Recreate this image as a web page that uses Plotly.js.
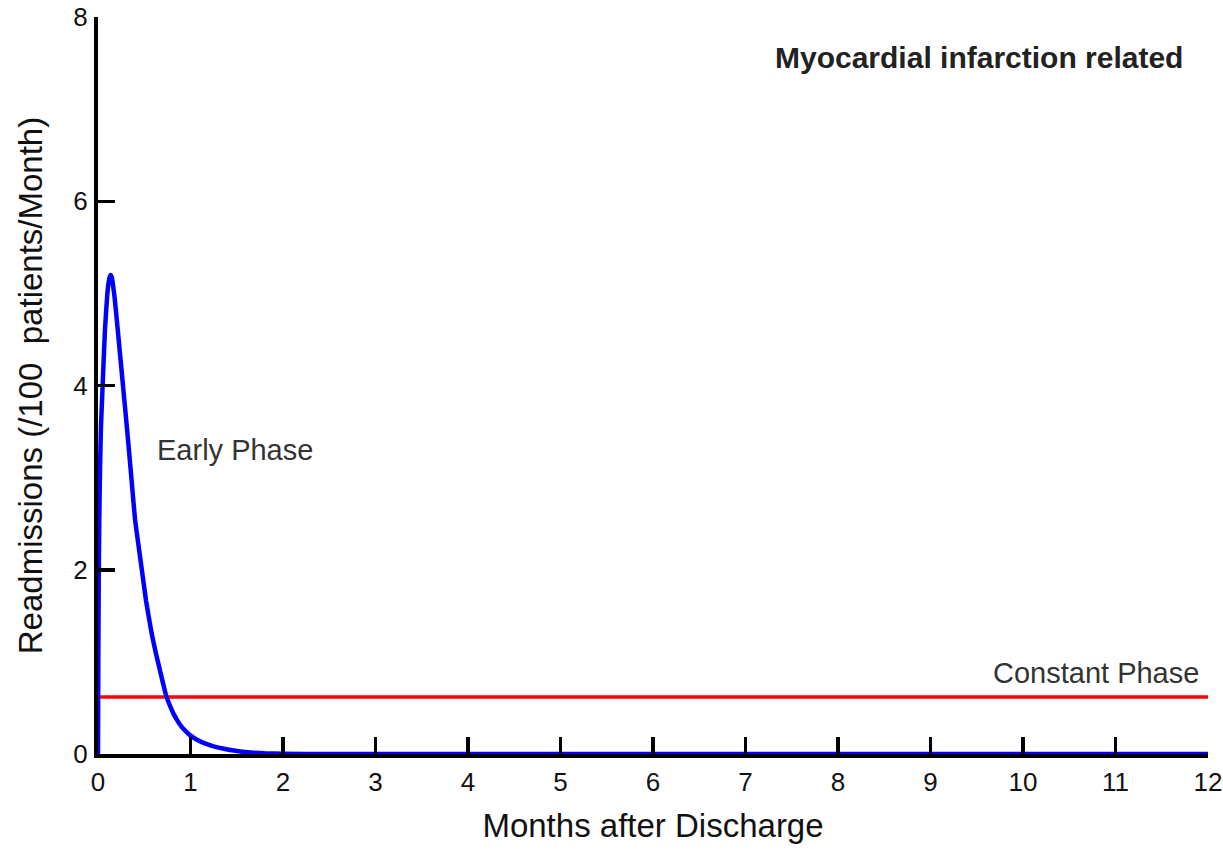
<!DOCTYPE html>
<html>
<head>
<meta charset="utf-8">
<script src="https://cdn.plot.ly/plotly-3.0.1.min.js"></script>
<style>html,body{margin:0;padding:0;background:#fff;}#chart{width:1223px;height:853px;}</style>
</head>
<body>
<div id="chart"></div>
<script>
// Early phase curve
const earlyMonths = [0, 0.003, 0.008, 0.014, 0.022, 0.032, 0.05, 0.075, 0.10, 0.115, 0.127, 0.137, 0.147, 0.16, 0.18, 0.21, 0.24, 0.27, 0.30, 0.33, 0.365, 0.40, 0.44, 0.47, 0.52, 0.58, 0.62, 0.66, 0.70, 0.74, 0.78, 0.82, 0.86, 0.90, 0.95, 1.0, 1.08, 1.17, 1.26, 1.35, 1.45, 1.56, 1.68, 1.8, 2.0, 2.5, 3, 6, 9, 12];
const earlyValues = [0, 0.9, 1.9, 2.55, 3.1, 3.55, 4.0, 4.6, 4.98, 5.12, 5.18, 5.2, 5.18, 5.11, 4.95, 4.64, 4.32, 4.0, 3.68, 3.35, 2.95, 2.55, 2.25, 2.03, 1.66, 1.31, 1.12, 0.95, 0.78, 0.62, 0.52, 0.43, 0.36, 0.30, 0.245, 0.20, 0.15, 0.11, 0.08, 0.06, 0.04, 0.025, 0.015, 0.008, 0.003, 0, 0, 0, 0, 0];
// Constant phase
const constMonths = [0, 12];
const constValues = [0.62, 0.62];

const xTicks = [0,1,2,3,4,5,6,7,8,9,10,11,12];
const yTicks = [0,2,4,6,8];

const font = "Liberation Sans, Arial, sans-serif";

const traces = [
  {x: constMonths, y: constValues, mode: 'lines', line: {color: '#ff0000', width: 3.5}, hoverinfo: 'skip'},
  {x: earlyMonths, y: earlyValues, mode: 'lines', line: {color: '#0000ff', width: 4.5, shape: 'spline', smoothing: 0.4}, hoverinfo: 'skip'}
];

const axisCommon = {
  showgrid: false, zeroline: false, showline: true, linecolor: '#000', linewidth: 4,
  ticks: 'inside', ticklen: 17, tickwidth: 3.5, tickcolor: '#000',
  tickfont: {family: font, size: 26, color: '#111'}, mirror: false,
  ticklabeloverflow: 'allow'
};

const layout = {
  width: 1223, height: 853,
  margin: {l: 98, r: 15, t: 17, b: 99},
  paper_bgcolor: '#fff', plot_bgcolor: '#fff',
  showlegend: false,
  xaxis: Object.assign({}, axisCommon, {
    range: [0, 12], tickvals: xTicks, ticktext: xTicks.map(String), ticklabelstandoff: 2,
    title: {text: 'Months after Discharge', font: {family: font, size: 33, color: '#111'}, standoff: 19}
  }),
  yaxis: Object.assign({}, axisCommon, {
    range: [0, 8], tickvals: yTicks, ticktext: yTicks.map(String), ticklabelstandoff: 1,
    title: {text: 'Readmissions (/100  patients/Month)', font: {family: font, size: 33, color: '#111'}, standoff: 22}
  }),
  annotations: [
    {x: 11.75, y: 7.56, xref: 'x', yref: 'y', xanchor: 'right', yanchor: 'middle', showarrow: false,
     text: '<b>Myocardial infarction related</b>', font: {family: font, size: 30, color: '#222'}},
    {x: 0.615, y: 3.30, xref: 'x', yref: 'y', xanchor: 'left', yanchor: 'middle', showarrow: false,
     text: 'Early Phase', font: {family: font, size: 29, color: '#333'}},
    {x: 11.92, y: 0.88, xref: 'x', yref: 'y', xanchor: 'right', yanchor: 'middle', showarrow: false,
     text: 'Constant Phase', font: {family: font, size: 29, color: '#333'}}
  ]
};

Plotly.newPlot('chart', traces, layout, {displayModeBar: false, staticPlot: true});
</script>
</body>
</html>
